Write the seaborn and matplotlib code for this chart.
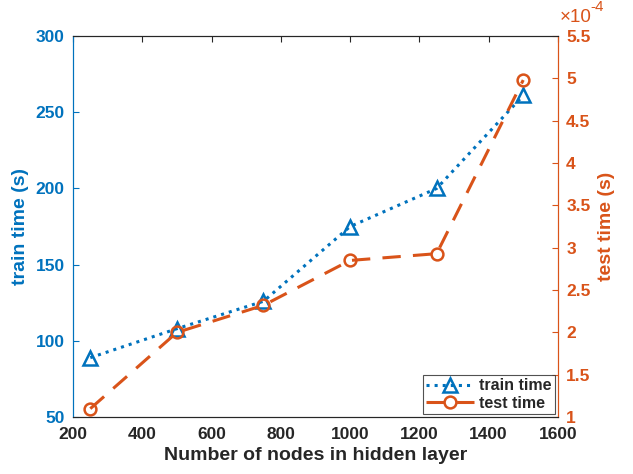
import numpy as np
import pandas as pd
import matplotlib
matplotlib.use("Agg")
import matplotlib.pyplot as plt
import seaborn as sns

sns.set_style("white")
plt.rcParams['font.family'] = ['Liberation Sans', 'DejaVu Sans']
plt.rcParams['font.weight'] = 'bold'

# data
nodes = [250, 500, 750, 1000, 1250, 1500]
train_time = [89, 108, 126, 175, 200, 261]
test_time = [1.10e-4, 2.00e-4, 2.32e-4, 2.85e-4, 2.93e-4, 4.98e-4]

blue = '#0072BD'
orange = '#D95319'
dark = '#262626'

df = pd.DataFrame({'nodes': nodes, 'train': train_time, 'test': np.array(test_time) * 1e4})

fig = plt.figure(figsize=(6.33, 4.74), dpi=100)
ax = fig.add_axes([0.1153, 0.120, 0.766, 0.804])
ax2 = ax.twinx()

sns.lineplot(data=df, x='nodes', y='train', ax=ax, color=blue, linestyle=':', linewidth=2.2,
             marker='^', markersize=10, markerfacecolor='none', markeredgecolor=blue,
             markeredgewidth=1.8, label='train time', legend=False)
sns.lineplot(data=df, x='nodes', y='test', ax=ax2, color=orange, linestyle=(0, (6, 4)), linewidth=2.2,
             marker='o', markersize=8.5, markerfacecolor='none', markeredgecolor=orange,
             markeredgewidth=1.8, label='test time', legend=False)

ax.set_xlim(200, 1600)
ax.set_ylim(50, 300)
ax2.set_ylim(1, 5.5)
ax.set_xticks(np.arange(200, 1601, 200))
ax.set_yticks(np.arange(50, 301, 50))
ax2.set_yticks(np.arange(1, 5.51, 0.5))
ax2.set_yticklabels(['1', '1.5', '2', '2.5', '3', '3.5', '4', '4.5', '5', '5.5'])

ax.set_xlabel('Number of nodes in hidden layer', fontsize=14, fontweight='bold', color=dark, labelpad=4)
ax.set_ylabel('train time (s)', fontsize=14, fontweight='bold', color=blue, labelpad=5)
ax2.set_ylabel('test time (s)', fontsize=14, fontweight='bold', color=orange, labelpad=5)

ax.tick_params(axis='x', colors=dark, labelsize=12.5, direction='in', length=4, pad=7)
ax.tick_params(axis='y', colors=blue, labelsize=12.5, direction='in', length=4, pad=6)
ax2.tick_params(axis='y', colors=orange, labelsize=12.5, direction='in', length=4, pad=6)
for lab in ax.get_xticklabels() + ax.get_yticklabels() + ax2.get_yticklabels():
    lab.set_fontweight('bold')

for a in (ax, ax2):
    for s in a.spines.values():
        s.set_visible(True)
        s.set_linewidth(0.8)
    a.spines['top'].set_color(dark)
    a.spines['bottom'].set_color(dark)
    a.spines['left'].set_color(blue)
    a.spines['right'].set_color(orange)

# top ticks like MATLAB box
ax.tick_params(axis='x', top=True)

# exponent label above right axis
ax2.text(1.004, 1.026, '\u00d710', transform=ax2.transAxes, color=orange,
         fontsize=13.5, fontweight='normal', ha='left', va='bottom')
ax2.text(1.068, 1.058, '-4', transform=ax2.transAxes, color=orange,
         fontsize=11, fontweight='normal', ha='left', va='bottom')

h1, l1 = ax.get_legend_handles_labels()
h2, l2 = ax2.get_legend_handles_labels()
leg = ax2.legend(h1 + h2, l1 + l2, loc='lower right', fontsize=11.5, frameon=True,
                 fancybox=False, edgecolor=dark, handlelength=3, borderpad=0.2,
                 labelspacing=0.15, handletextpad=0.3, borderaxespad=0.2)
for t in leg.get_texts():
    t.set_fontweight('bold')
leg.get_frame().set_linewidth(0.8)

fig.savefig('out.png', dpi=100)
